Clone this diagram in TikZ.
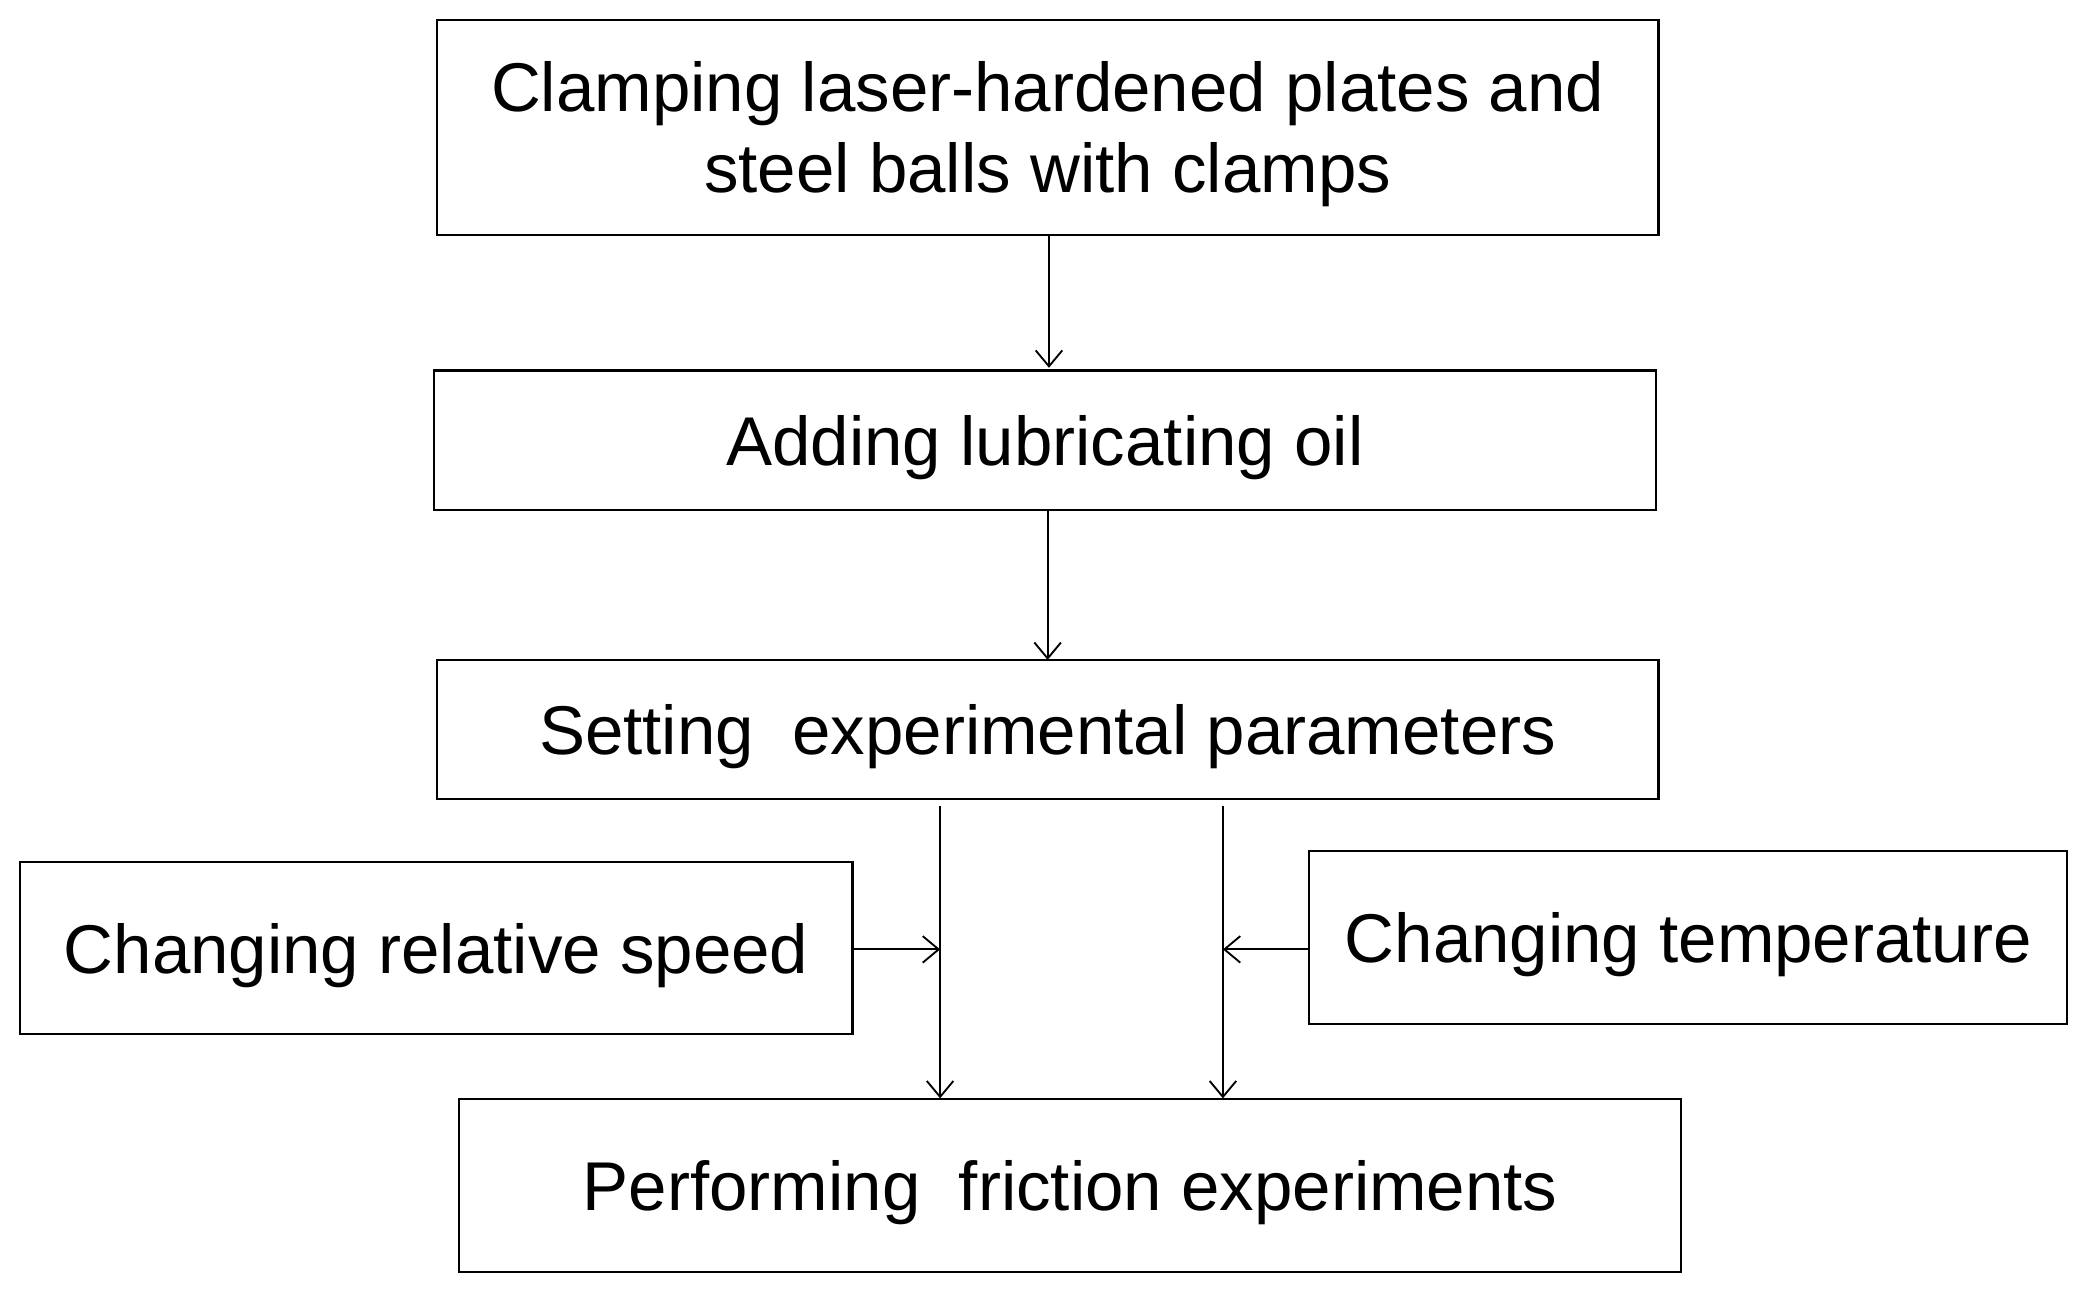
\documentclass[tikz,border=0pt]{standalone}
\usepackage{fontspec}
\setmainfont{Liberation Sans}
\usetikzlibrary{arrows.meta}
\begin{document}
\begin{tikzpicture}[x=0.5pt,y=-0.5pt,
 box/.style={draw,line width=0.8pt,inner sep=0pt,font=\fontsize{26}{30.5}\selectfont,align=center,text depth=0pt},
 arr/.style={line width=0.7pt,-{Straight Barb[length=6pt,width=10pt]}}]
\useasboundingbox (0,0) rectangle (1568,977);
\newcommand{\bx}[6]{\node[box,minimum width=#4*0.5pt-#2*0.5pt,minimum height=#5*0.5pt-#3*0.5pt] (#1) at ({(#2+#4)/2},{(#3+#5)/2}) {#6};}
\bx{b1}{329}{15}{1249}{177}{Clamping laser-hardened plates and\\steel balls with clamps}
\bx{b2}{327}{279}{1247}{384}{Adding lubricating oil}
\bx{b3}{329}{497}{1249}{602}{Setting\ \ experimental parameters}
\bx{b4}{15}{649}{642}{779}{Changing relative speed}
\bx{b5}{986}{641}{1557}{771}{Changing temperature}
\bx{b6}{346}{828}{1266}{958}{Performing\ \ friction experiments}
\coordinate (s1) at (708,607);
\coordinate (s2) at (921,607);
\coordinate (m1) at (708,715);
\coordinate (m2) at (921,715);
\draw[arr] (b1.south -| 790,0) -- (790,277);
\draw[arr] (b2.south -| 789,0) -- (789,497);
\draw[arr] (s1) -- (s1 |- b6.north);
\draw[arr] (s2) -- (s2 |- b6.north);
\draw[arr] (b4.east |- m1) -- (m1);
\draw[arr] (b5.west |- m2) -- (m2);
\end{tikzpicture}
\end{document}
